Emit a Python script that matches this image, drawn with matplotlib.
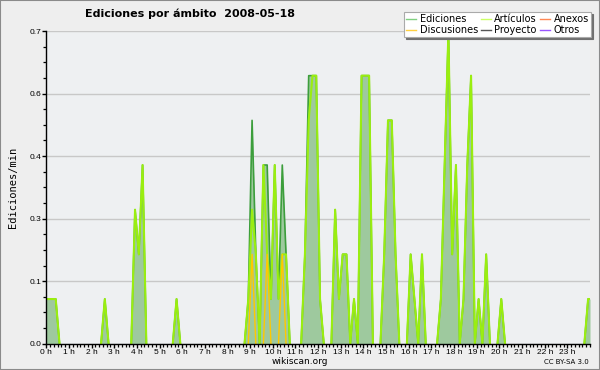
import numpy as np
import matplotlib
matplotlib.use("Agg")
import matplotlib.pyplot as plt
from matplotlib.lines import Line2D
from matplotlib.patches import Rectangle
from matplotlib.ticker import FixedLocator, MultipleLocator, FuncFormatter

title = "Ediciones por ámbito  2008-05-18"
ylabel = "Ediciones/min"
footer = "wikiscan.org"
license_text = "CC BY-SA 3.0"
legend_names = ["Ediciones", "Discusiones", "Artículos", "Proyecto", "Anexos", "Otros"]
legend_colors = ["#80d080", "#ffd040", "#ccff66", "#555555", "#ff8855", "#9955ff"]
hour_labels = [f"{h} h" for h in range(24)]
y_ticks = [0.0, 0.14, 0.28, 0.42, 0.56, 0.70]

# edits per minute, 10-minute bins (6 per hour, 24 rows)
ediciones = [
    0.1, 0.1, 0.1, 0, 0, 0,        # 0 h
    0, 0, 0, 0, 0, 0,              # 1 h
    0, 0, 0, 0.1, 0, 0,            # 2 h
    0, 0, 0, 0, 0, 0.3,            # 3 h
    0.2, 0.4, 0, 0, 0, 0,          # 4 h
    0, 0, 0, 0, 0.1, 0,            # 5 h
    0, 0, 0, 0, 0, 0,              # 6 h
    0, 0, 0, 0, 0, 0,              # 7 h
    0, 0, 0, 0, 0, 0.1,            # 8 h
    0.5, 0.2, 0, 0.4, 0.4, 0.1,    # 9 h
    0.4, 0.1, 0.4, 0.2, 0, 0,      # 10 h
    0, 0, 0.2, 0.6, 0.6, 0.6,      # 11 h
    0.1, 0, 0, 0, 0.3, 0.1,        # 12 h
    0.2, 0.2, 0, 0.1, 0, 0.6,      # 13 h
    0.6, 0.6, 0, 0, 0, 0.2,        # 14 h
    0.5, 0.5, 0.2, 0, 0, 0,        # 15 h
    0.2, 0.1, 0, 0.2, 0, 0,        # 16 h
    0, 0, 0.1, 0.4, 0.7, 0.2,      # 17 h
    0.4, 0, 0.1, 0.4, 0.6, 0,      # 18 h
    0.1, 0, 0.2, 0, 0, 0,          # 19 h
    0.1, 0, 0, 0, 0, 0,            # 20 h
    0, 0, 0, 0, 0, 0,              # 21 h
    0, 0, 0, 0, 0, 0,              # 22 h
    0, 0, 0, 0, 0, 0.1,            # 23 h
]
articulos = [
    0.1, 0.1, 0.1, 0, 0, 0,
    0, 0, 0, 0, 0, 0,
    0, 0, 0, 0.1, 0, 0,
    0, 0, 0, 0, 0, 0.3,
    0.2, 0.4, 0, 0, 0, 0,
    0, 0, 0, 0, 0.1, 0,
    0, 0, 0, 0, 0, 0,
    0, 0, 0, 0, 0, 0,
    0, 0, 0, 0, 0, 0.1,
    0.3, 0.2, 0, 0.4, 0.2, 0.1,
    0.4, 0.1, 0.2, 0.2, 0, 0,
    0, 0, 0.2, 0.5, 0.6, 0.6,
    0.1, 0, 0, 0, 0.3, 0.1,
    0.2, 0.2, 0, 0.1, 0, 0.6,
    0.6, 0.6, 0, 0, 0, 0.2,
    0.5, 0.5, 0.2, 0, 0, 0,
    0.2, 0.1, 0, 0.2, 0, 0,
    0, 0, 0.1, 0.4, 0.7, 0.2,
    0.4, 0, 0.1, 0.4, 0.6, 0,
    0.1, 0, 0.2, 0, 0, 0,
    0.1, 0, 0, 0, 0, 0,
    0, 0, 0, 0, 0, 0,
    0, 0, 0, 0, 0, 0,
    0, 0, 0, 0, 0, 0.1,
]
discusiones = [
    0, 0, 0, 0, 0, 0,
    0, 0, 0, 0, 0, 0,
    0, 0, 0, 0, 0, 0,
    0, 0, 0, 0, 0, 0,
    0, 0, 0, 0, 0, 0,
    0, 0, 0, 0, 0, 0,
    0, 0, 0, 0, 0, 0,
    0, 0, 0, 0, 0, 0,
    0, 0, 0, 0, 0, 0,
    0.2, 0, 0, 0, 0.2, 0,
    0, 0, 0.2, 0, 0, 0,
    0, 0, 0, 0, 0, 0,
    0, 0, 0, 0, 0, 0,
    0, 0, 0, 0, 0, 0,
    0, 0, 0, 0, 0, 0,
    0, 0, 0, 0, 0, 0,
    0, 0, 0, 0, 0, 0,
    0, 0, 0, 0, 0, 0,
    0, 0, 0, 0, 0, 0,
    0, 0, 0, 0, 0, 0,
    0, 0, 0, 0, 0, 0,
    0, 0, 0, 0, 0, 0,
    0, 0, 0, 0, 0, 0,
    0, 0, 0, 0, 0, 0,
]

n = len(ediciones)
t = (np.arange(n) + 0.5) * 24.0 / n


def extended(v):
    v = np.asarray(v, dtype=float)
    return np.concatenate([[0.0], t, [24.0]]), np.concatenate([[v[0]], v, [v[-1]]])


def visible_path(v):
    xs, ys = extended(v)
    ox, oy = [], []
    for i in range(len(ys) - 1):
        if ys[i] == 0 and ys[i + 1] == 0:
            ox.append(np.nan)
            oy.append(np.nan)
        else:
            ox += [xs[i], xs[i + 1]]
            oy += [ys[i], ys[i + 1]]
    return ox, oy


fig = plt.figure(figsize=(6, 3.7), dpi=100, facecolor="#eeeeee")
ax = fig.add_axes([46.3 / 600, 26.3 / 370, (590 - 46.3) / 600, (343.7 - 31) / 370])
ax.set_facecolor("#eef0f2")

fx, fy = extended(ediciones)
ax.fill_between(fx, 0, fy, color="#9ec99e", lw=0, zorder=2)
ex, ey = visible_path(ediciones)
ax.plot(ex, ey, color="#3c9e3c", lw=1.2, zorder=3)
axx, axy = visible_path(articulos)
ax.plot(axx, axy, color="#9aee10", lw=1.5, zorder=4)
dx, dy = visible_path(discusiones)
ax.plot(dx, dy, color="#ffc800", lw=1.0, zorder=5)

ax.set_xlim(0, 24)
ax.set_ylim(0, max(y_ticks))
ax.xaxis.set_major_locator(FixedLocator(list(range(24))))
ax.set_xticklabels(hour_labels)
ax.xaxis.set_minor_locator(MultipleLocator(1 / 6))
ax.yaxis.set_major_locator(FixedLocator(y_ticks))
ax.yaxis.set_major_formatter(FuncFormatter(lambda v, p: f"{v:.1f}"))
ax.yaxis.set_minor_locator(MultipleLocator(0.035))
ax.tick_params(axis="both", which="major", direction="out", length=3, width=1,
               labelsize=6, pad=0.5, colors="black")
ax.tick_params(axis="both", which="minor", direction="out", length=2.5, width=0.9)
for lab in ax.get_xticklabels() + ax.get_yticklabels():
    lab.set_family("Liberation Sans")
ax.grid(axis="y", which="major", color="#c8c8c8", lw=1)
ax.set_axisbelow(True)
for s in ("top", "right"):
    ax.spines[s].set_visible(False)
for s in ("left", "bottom"):
    ax.spines[s].set_linewidth(1)
    ax.spines[s].set_zorder(6)

ax.set_ylabel(ylabel, family="DejaVu Sans Mono", fontsize=7.5, labelpad=8)
fig.text(85 / 600, 1 - 14 / 370, title, fontsize=8, fontweight="bold",
         ha="left", va="center")
fig.text(300 / 600, 1 - 361 / 370, footer, fontsize=6.5, ha="center", va="center")
fig.text(589 / 600, 1 - 362.5 / 370, license_text, fontsize=5, ha="right", va="center")

handles = [Line2D([], [], color=c, lw=1) for c in legend_colors]
leg = fig.legend(handles, legend_names, loc="upper left",
                 bbox_to_anchor=(404 / 600, 1 - 12 / 370), bbox_transform=fig.transFigure,
                 ncol=3, fontsize=7, handlelength=1.0, handletextpad=0.35,
                 columnspacing=0.35, labelspacing=0.05, borderpad=0.25,
                 borderaxespad=0, fancybox=False, edgecolor="#aaaaaa", framealpha=1,
                 shadow={"ox": 1.5, "oy": -1.5, "color": "#707070", "alpha": 1})
leg.get_frame().set_linewidth(0.8)

fig.patches.append(Rectangle((0, 0), 1, 1, transform=fig.transFigure, fill=False,
                             edgecolor="#8a8a8a", lw=1.5))

fig.savefig("out.png", dpi=100, facecolor=fig.get_facecolor())
